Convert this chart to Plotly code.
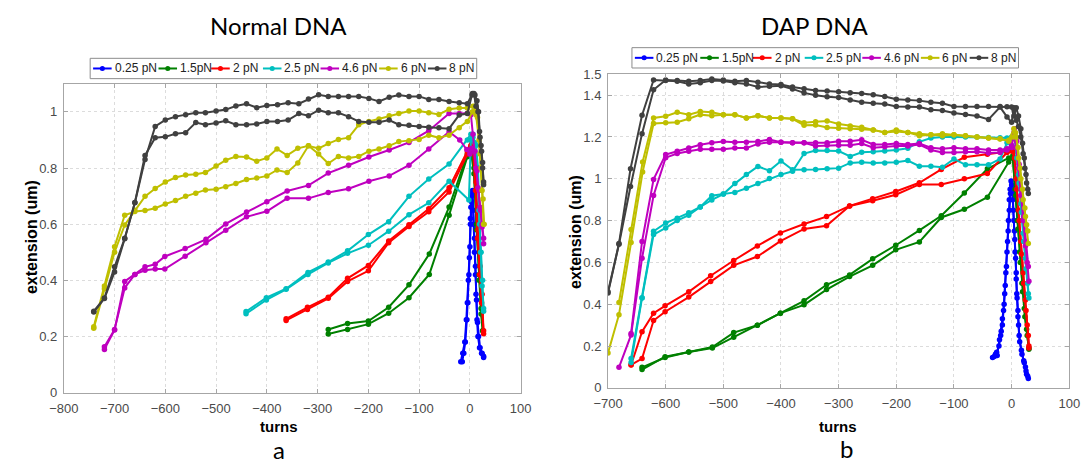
import plotly.graph_objects as go

W, H = 1091, 472

FORCES = ["0.25 pN", "1.5pN", "2 pN", "2.5 pN", "4.6 pN", "6 pN", "8 pN"]
COLORS = ["#0000ff", "#008000", "#ff0000", "#00bfbf", "#bf00bf", "#bfbf00", "#404040"]

# ---------------- Normal DNA (panel a) ----------------
n025a_t = [-18, -14, -10, -7, -5, -3, -1, 1, 2, 3, 5, 7, 9, 11, 12, 14, 16, 19, 23, 27]
n025a_e = [0.11, 0.14, 0.18, 0.26, 0.32, 0.40, 0.48, 0.60, 0.66, 0.70, 0.72, 0.65, 0.55, 0.45, 0.35, 0.26, 0.20, 0.16, 0.14, 0.125]
n025b_t = [-15, -12, -9, -6, -4, -2, 0, 1, 3, 5, 7, 9, 11, 13, 15, 17, 20, 24, 27]
n025b_e = [0.11, 0.14, 0.18, 0.26, 0.32, 0.42, 0.52, 0.62, 0.68, 0.71, 0.60, 0.50, 0.42, 0.33, 0.25, 0.20, 0.16, 0.14, 0.13]

n15a_t = [-279, -241, -200, -160, -120, -80, -41, -5, 2, 8, 13, 18, 22, 26]
n15a_e = [0.225, 0.246, 0.255, 0.304, 0.384, 0.494, 0.661, 0.85, 0.87, 0.80, 0.60, 0.42, 0.30, 0.22]
n15b_t = [-279, -241, -200, -160, -120, -80, -41, -5, 2, 8, 13, 18, 22, 25]
n15b_e = [0.209, 0.225, 0.244, 0.283, 0.338, 0.421, 0.632, 0.84, 0.86, 0.78, 0.58, 0.40, 0.28, 0.22]

n2a_t = [-362, -320, -279, -241, -200, -160, -120, -81, -41, -5, 3, 8, 12, 16, 20, 24, 27]
n2a_e = [0.263, 0.304, 0.340, 0.407, 0.453, 0.540, 0.598, 0.655, 0.730, 0.86, 0.90, 0.88, 0.75, 0.58, 0.45, 0.35, 0.21]
n2b_t = [-362, -320, -279, -241, -200, -160, -120, -81, -41, -5, 2, 6, 11, 15, 19, 23, 27]
n2b_e = [0.257, 0.296, 0.336, 0.396, 0.434, 0.534, 0.592, 0.644, 0.715, 0.85, 0.88, 0.87, 0.72, 0.55, 0.42, 0.32, 0.22]

n25a_t = [-441, -401, -362, -319, -279, -241, -200, -160, -120, -81, -41, -5, 2, 6, 12, 16, 19, 22, 25, 27]
n25a_e = [0.289, 0.338, 0.370, 0.428, 0.465, 0.505, 0.563, 0.609, 0.699, 0.761, 0.814, 0.90, 0.92, 0.91, 0.88, 0.80, 0.60, 0.50, 0.40, 0.29]
n25b_t = [-441, -401, -362, -319, -279, -241, -200, -160, -120, -81, -41, -2, 2, 6, 10, 15, 18, 21, 24, 27]
n25b_e = [0.281, 0.330, 0.368, 0.421, 0.462, 0.496, 0.525, 0.575, 0.634, 0.676, 0.753, 0.686, 0.90, 0.92, 0.89, 0.80, 0.65, 0.50, 0.38, 0.30]

n46a_t = [-720, -700, -680, -660, -640, -620, -601, -561, -520, -481, -440, -400, -360, -318, -279, -239, -199, -159, -120, -81, -41, -21, -5, 2, 6, 10, 14, 18, 21, 24, 27]
n46a_e = [0.154, 0.223, 0.396, 0.421, 0.448, 0.457, 0.485, 0.513, 0.546, 0.601, 0.643, 0.680, 0.718, 0.738, 0.782, 0.810, 0.839, 0.864, 0.891, 0.933, 0.994, 0.994, 0.995, 0.99, 0.92, 0.86, 0.79, 0.72, 0.65, 0.59, 0.53]
n46b_t = [-720, -700, -680, -660, -640, -620, -601, -561, -520, -481, -440, -400, -360, -318, -279, -239, -199, -159, -120, -81, -41, -20, -6, 0, 4, 8, 12, 16, 20, 24, 27]
n46b_e = [0.163, 0.225, 0.373, 0.421, 0.436, 0.440, 0.440, 0.486, 0.534, 0.578, 0.626, 0.646, 0.692, 0.692, 0.713, 0.726, 0.753, 0.772, 0.810, 0.868, 0.929, 0.90, 0.866, 0.85, 0.87, 0.86, 0.80, 0.73, 0.66, 0.60, 0.55]

n6a_t = [-741, -720, -700, -680, -660, -640, -620, -600, -580, -560, -540, -521, -500, -481, -461, -440, -420, -400, -380, -360, -339, -318, -298, -279, -259, -239, -219, -199, -179, -159, -140, -120, -100, -81, -61, -41, -21, -5, 5, 10, 15, 20, 24, 27]
n6a_e = [0.229, 0.37, 0.50, 0.597, 0.65, 0.699, 0.727, 0.75, 0.766, 0.775, 0.778, 0.784, 0.807, 0.828, 0.841, 0.839, 0.824, 0.836, 0.868, 0.845, 0.87, 0.879, 0.85, 0.816, 0.841, 0.836, 0.841, 0.86, 0.868, 0.879, 0.894, 0.897, 0.902, 0.917, 0.908, 0.917, 0.943, 0.966, 1.0, 1.02, 0.98, 0.85, 0.72, 0.60]
n6b_t = [-741, -720, -700, -680, -660, -640, -620, -600, -580, -560, -540, -521, -500, -481, -461, -440, -420, -400, -380, -360, -339, -318, -298, -279, -259, -239, -219, -199, -179, -159, -140, -120, -100, -81, -61, -41, -21, -5, 6, 12, 18, 22, 26, 28]
n6b_e = [0.235, 0.38, 0.52, 0.632, 0.645, 0.649, 0.657, 0.672, 0.684, 0.699, 0.71, 0.722, 0.724, 0.733, 0.745, 0.759, 0.764, 0.772, 0.793, 0.784, 0.818, 0.879, 0.87, 0.887, 0.902, 0.908, 0.954, 0.966, 0.975, 0.986, 0.994, 1.003, 1.003, 0.997, 0.991, 1.009, 1.014, 1.014, 1.02, 0.99, 0.90, 0.80, 0.69, 0.60]

n8a_t = [-741, -720, -700, -680, -660, -640, -620, -600, -580, -560, -540, -521, -500, -481, -461, -440, -420, -400, -379, -358, -337, -318, -298, -279, -259, -239, -219, -199, -179, -159, -140, -120, -100, -81, -61, -41, -21, -5, 5, 10, 14, 17, 20, 23, 25, 27]
n8a_e = [0.287, 0.335, 0.43, 0.548, 0.676, 0.83, 0.948, 0.971, 0.983, 0.99, 0.997, 0.997, 1.003, 1.008, 1.021, 1.029, 1.015, 1.023, 1.025, 1.032, 1.029, 1.046, 1.061, 1.055, 1.055, 1.055, 1.055, 1.048, 1.037, 1.052, 1.06, 1.055, 1.055, 1.044, 1.044, 1.037, 1.032, 1.029, 1.065, 1.06, 1.04, 1.0, 0.91, 0.86, 0.82, 0.74]
n8b_t = [-741, -720, -700, -680, -660, -640, -620, -600, -580, -560, -540, -521, -500, -481, -461, -440, -420, -400, -379, -358, -337, -318, -298, -279, -259, -239, -219, -199, -179, -159, -140, -120, -100, -81, -61, -41, -21, -5, 4, 8, 12, 16, 19, 22, 25, 27]
n8b_e = [0.29, 0.337, 0.448, 0.55, 0.677, 0.845, 0.908, 0.911, 0.922, 0.926, 0.962, 0.954, 0.96, 0.968, 0.954, 0.954, 0.957, 0.966, 0.966, 0.971, 0.994, 0.986, 1.006, 0.997, 0.997, 0.983, 0.966, 0.963, 0.963, 0.971, 0.954, 0.952, 0.948, 0.945, 0.943, 0.94, 0.989, 0.994, 1.06, 1.065, 1.02, 1.0, 0.93, 0.88, 0.80, 0.75]

# ---------------- DAP DNA (panel b) ----------------
d025a_t = [-33, -28, -25, -21, -18, -16, -13, -11, -9, -7, -5.5, -4, -2.5, -1, 1, 2, 4, 5.5, 7, 8, 9.5, 11, 13, 17, 21, 24, 26, 29]
d025a_e = [0.145, 0.16, 0.155, 0.23, 0.27, 0.33, 0.40, 0.49, 0.58, 0.70, 0.80, 0.90, 0.95, 0.99, 0.97, 0.90, 0.80, 0.71, 0.62, 0.52, 0.43, 0.34, 0.25, 0.18, 0.13, 0.10, 0.065, 0.045]
d025b_t = [-30, -26, -22, -19, -16, -14, -12, -10, -8, -6, -4, -2, 0, 2, 3, 5, 6, 8, 9, 11, 12, 14, 18, 22, 25, 28]
d025b_e = [0.15, 0.17, 0.20, 0.25, 0.30, 0.37, 0.45, 0.55, 0.65, 0.75, 0.85, 0.93, 0.97, 0.94, 0.85, 0.75, 0.65, 0.55, 0.45, 0.37, 0.30, 0.22, 0.16, 0.12, 0.08, 0.055]

d15a_t = [-641, -601, -560, -519, -482, -441, -401, -360, -321, -281, -241, -201, -160, -122, -82, -42, -5, 2, 6, 10, 14, 18, 22, 26, 30]
d15a_e = [0.087, 0.149, 0.171, 0.195, 0.264, 0.299, 0.357, 0.416, 0.493, 0.54, 0.617, 0.682, 0.753, 0.823, 0.932, 1.048, 1.10, 1.11, 0.95, 0.80, 0.65, 0.50, 0.38, 0.28, 0.185]
d15b_t = [-641, -601, -560, -519, -482, -441, -401, -360, -321, -281, -241, -201, -160, -122, -82, -42, -5, 2, 7, 11, 15, 19, 23, 27, 30]
d15b_e = [0.098, 0.145, 0.171, 0.19, 0.242, 0.299, 0.357, 0.397, 0.47, 0.532, 0.586, 0.66, 0.698, 0.815, 0.854, 0.912, 1.08, 1.10, 0.92, 0.76, 0.60, 0.46, 0.34, 0.25, 0.19]

d2a_t = [-660, -641, -621, -601, -560, -522, -482, -441, -401, -360, -321, -281, -241, -201, -160, -122, -82, -42, -8, 0, 4, 8, 12, 16, 20, 24, 27, 30]
d2a_e = [0.109, 0.268, 0.357, 0.392, 0.459, 0.536, 0.609, 0.679, 0.741, 0.784, 0.819, 0.87, 0.905, 0.939, 0.981, 1.045, 1.103, 1.118, 1.129, 1.133, 1.13, 1.0, 0.85, 0.70, 0.55, 0.42, 0.30, 0.20]
d2b_t = [-660, -641, -621, -601, -560, -522, -482, -441, -401, -360, -321, -281, -241, -201, -160, -122, -82, -42, -8, 0, 5, 9, 13, 17, 21, 25, 29, 30]
d2b_e = [0.11, 0.14, 0.322, 0.364, 0.434, 0.508, 0.586, 0.628, 0.702, 0.76, 0.775, 0.87, 0.895, 0.924, 0.973, 0.973, 1.0, 1.025, 1.126, 1.135, 1.10, 0.95, 0.80, 0.64, 0.50, 0.37, 0.25, 0.19]

d25a_t = [-660, -641, -621, -600, -580, -560, -540, -520, -500, -480, -460, -440, -420, -400, -380, -360, -340, -320, -300, -280, -260, -240, -220, -200, -180, -160, -140, -120, -100, -80, -60, -40, -20, -8, 0, 4, 8, 12, 16, 20, 24, 28, 30]
d25a_e = [0.14, 0.431, 0.749, 0.788, 0.811, 0.837, 0.865, 0.919, 0.927, 0.935, 0.955, 0.977, 1.001, 1.02, 1.036, 1.121, 1.135, 1.135, 1.133, 1.107, 1.127, 1.129, 1.133, 1.138, 1.146, 1.177, 1.195, 1.2, 1.2, 1.2, 1.2, 1.198, 1.196, 1.195, 1.2, 1.21, 1.15, 1.02, 0.88, 0.74, 0.62, 0.50, 0.43]
d25b_t = [-660, -641, -621, -600, -580, -560, -540, -520, -500, -480, -460, -440, -420, -400, -380, -360, -340, -320, -300, -280, -260, -240, -220, -200, -180, -160, -140, -120, -100, -80, -60, -40, -20, -8, 0, 5, 9, 13, 17, 21, 25, 29]
d25b_e = [0.121, 0.43, 0.733, 0.765, 0.80, 0.826, 0.865, 0.899, 0.927, 0.977, 1.02, 1.059, 1.039, 1.085, 1.043, 1.043, 1.045, 1.048, 1.051, 1.076, 1.079, 1.076, 1.076, 1.079, 1.087, 1.06, 1.06, 1.055, 1.095, 1.067, 1.067, 1.067, 1.095, 1.172, 1.19, 1.20, 1.10, 0.98, 0.84, 0.70, 0.57, 0.45]

d46a_t = [-681, -660, -641, -621, -600, -580, -560, -540, -520, -500, -480, -460, -440, -420, -400, -380, -360, -340, -320, -300, -280, -260, -240, -220, -200, -180, -160, -140, -120, -100, -80, -60, -40, -20, -8, 0, 4, 8, 12, 16, 20, 24, 27, 30]
d46a_e = [0.098, 0.253, 0.62, 0.92, 1.101, 1.121, 1.132, 1.141, 1.141, 1.141, 1.147, 1.147, 1.167, 1.175, 1.175, 1.172, 1.172, 1.157, 1.16, 1.16, 1.16, 1.169, 1.149, 1.153, 1.157, 1.157, 1.164, 1.138, 1.126, 1.126, 1.129, 1.129, 1.123, 1.126, 1.138, 1.15, 1.22, 1.15, 1.05, 0.92, 0.80, 0.68, 0.60, 0.51]
d46b_t = [-660, -641, -621, -600, -580, -560, -540, -520, -500, -480, -460, -440, -420, -400, -380, -360, -340, -320, -300, -280, -260, -240, -220, -200, -180, -160, -140, -120, -100, -80, -60, -40, -20, -8, 0, 5, 9, 13, 17, 21, 25, 29]
d46b_e = [0.26, 0.70, 0.997, 1.116, 1.132, 1.147, 1.163, 1.172, 1.178, 1.175, 1.175, 1.178, 1.188, 1.175, 1.172, 1.172, 1.172, 1.172, 1.18, 1.18, 1.187, 1.164, 1.164, 1.169, 1.164, 1.169, 1.149, 1.144, 1.149, 1.144, 1.144, 1.138, 1.138, 1.144, 1.16, 1.24, 1.18, 1.07, 0.95, 0.82, 0.70, 0.58]

d6a_t = [-700, -681, -660, -640, -621, -600, -580, -560, -540, -520, -500, -480, -460, -440, -420, -400, -380, -360, -340, -320, -300, -280, -260, -240, -220, -200, -180, -160, -140, -120, -100, -80, -60, -40, -20, -5, 3, 7, 11, 15, 19, 23, 26, 29]
d6a_e = [0.167, 0.35, 0.695, 1.032, 1.265, 1.268, 1.271, 1.287, 1.307, 1.302, 1.307, 1.307, 1.291, 1.302, 1.291, 1.291, 1.287, 1.256, 1.257, 1.246, 1.242, 1.24, 1.237, 1.234, 1.222, 1.226, 1.222, 1.206, 1.211, 1.206, 1.211, 1.206, 1.2, 1.195, 1.191, 1.18, 1.2, 1.22, 1.15, 1.05, 0.95, 0.86, 0.78, 0.69]
d6b_t = [-681, -660, -640, -621, -600, -580, -560, -540, -520, -500, -480, -460, -440, -420, -400, -380, -360, -340, -320, -300, -280, -260, -240, -220, -200, -180, -160, -140, -120, -100, -80, -60, -40, -20, -5, 4, 8, 12, 16, 20, 24, 28]
d6b_e = [0.408, 0.757, 1.08, 1.291, 1.299, 1.318, 1.307, 1.322, 1.318, 1.307, 1.307, 1.291, 1.302, 1.291, 1.291, 1.287, 1.268, 1.273, 1.277, 1.262, 1.253, 1.247, 1.234, 1.222, 1.234, 1.222, 1.216, 1.211, 1.216, 1.211, 1.206, 1.2, 1.195, 1.19, 1.185, 1.24, 1.2, 1.1, 1.0, 0.9, 0.82, 0.75]

d8a_t = [-700, -681, -661, -641, -621, -600, -580, -560, -540, -520, -500, -480, -460, -440, -420, -400, -380, -360, -340, -320, -300, -280, -260, -240, -220, -200, -180, -160, -140, -120, -100, -80, -60, -40, -20, -8, 0, 4, 8, 12, 16, 19, 22, 25, 28]
d8a_e = [0.454, 0.687, 0.963, 1.216, 1.426, 1.473, 1.47, 1.467, 1.47, 1.477, 1.473, 1.467, 1.47, 1.462, 1.454, 1.451, 1.439, 1.431, 1.423, 1.42, 1.417, 1.412, 1.408, 1.402, 1.394, 1.381, 1.377, 1.374, 1.366, 1.361, 1.346, 1.346, 1.346, 1.346, 1.346, 1.345, 1.343, 1.30, 1.34, 1.30, 1.24, 1.17, 1.10, 1.02, 0.95]
d8b_t = [-700, -681, -661, -641, -621, -600, -580, -560, -540, -520, -500, -480, -460, -440, -420, -400, -380, -360, -340, -320, -300, -280, -260, -240, -220, -200, -180, -160, -140, -120, -100, -80, -60, -40, -20, -8, 0, 4, 8, 12, 16, 20, 23, 26, 29]
d8b_e = [0.46, 0.69, 1.048, 1.304, 1.473, 1.47, 1.467, 1.454, 1.46, 1.47, 1.468, 1.46, 1.454, 1.439, 1.443, 1.445, 1.43, 1.411, 1.40, 1.392, 1.389, 1.377, 1.366, 1.361, 1.358, 1.346, 1.343, 1.343, 1.33, 1.327, 1.315, 1.308, 1.30, 1.284, 1.343, 1.296, 1.27, 1.34, 1.28, 1.25, 1.20, 1.12, 1.05, 0.98, 0.93]

NORMAL = [
    (n025a_t, n025a_e, n025b_t, n025b_e),
    (n15a_t, n15a_e, n15b_t, n15b_e),
    (n2a_t, n2a_e, n2b_t, n2b_e),
    (n25a_t, n25a_e, n25b_t, n25b_e),
    (n46a_t, n46a_e, n46b_t, n46b_e),
    (n6a_t, n6a_e, n6b_t, n6b_e),
    (n8a_t, n8a_e, n8b_t, n8b_e),
]
DAP = [
    (d025a_t, d025a_e, d025b_t, d025b_e),
    (d15a_t, d15a_e, d15b_t, d15b_e),
    (d2a_t, d2a_e, d2b_t, d2b_e),
    (d25a_t, d25a_e, d25b_t, d25b_e),
    (d46a_t, d46a_e, d46b_t, d46b_e),
    (d6a_t, d6a_e, d6b_t, d6b_e),
    (d8a_t, d8a_e, d8b_t, d8b_e),
]

fig = go.Figure()

def add_panel(series, xa, ya):
    for (ta, ea, tb, eb), name, col in zip(series, FORCES, COLORS):
        for t, e in ((ta, ea), (tb, eb)):
            fig.add_trace(go.Scatter(
                x=t, y=e, xaxis=xa, yaxis=ya, mode="lines+markers", name=name,
                showlegend=False, line=dict(color=col, width=2),
                marker=dict(color=col, size=5.5, symbol="circle")))

add_panel(NORMAL, "x", "y")
add_panel(DAP, "x2", "y2")

def px_x(p):
    return p / W

def px_y(p):
    return 1 - p / H

axis_common = dict(
    showline=True, mirror="ticks", linecolor="#a6a6a6", linewidth=1,
    ticks="inside", ticklen=4, tickcolor="#a6a6a6",
    showgrid=True, gridcolor="#dcdcdc", griddash="dot", gridwidth=1,
    zeroline=False, fixedrange=True,
    tickfont=dict(family="Liberation Sans, Arial, sans-serif", size=13, color="#4a4a4a"),
)

left_y_ticks = [0, 0.2, 0.4, 0.6, 0.8, 1.0]
left_y_text = ["0", "0.2", "0.4", "0.6", "0.8", "1"]
right_y_ticks = [0, 0.2, 0.4, 0.6, 0.8, 1.0, 1.2, 1.4, 1.5]
right_y_text = ["0", "0.2", "0.4", "0.6", "0.8", "1", "1.2", "1.4", "1.5"]

fig.update_layout(
    width=W, height=H,
    margin=dict(l=0, r=0, t=0, b=0),
    paper_bgcolor="white", plot_bgcolor="white",
    showlegend=False,
    xaxis=dict(axis_common, domain=[px_x(50), px_x(518)], range=[-800, 100],
               tickmode="linear", tick0=-800, dtick=100, anchor="y", ticklabelstandoff=4),
    yaxis=dict(axis_common, domain=[px_y(398.3), px_y(79.3)], range=[0, 1.1],
               tickvals=left_y_ticks, ticktext=left_y_text, anchor="x", ticklabelstandoff=3),
    xaxis2=dict(axis_common, domain=[px_x(607.5), px_x(1080)], range=[-700, 100],
                tickmode="linear", tick0=-700, dtick=100, anchor="y2", ticklabelstandoff=4),
    yaxis2=dict(axis_common, domain=[px_y(393.3), px_y(69.5)], range=[0, 1.5],
                tickvals=right_y_ticks, ticktext=right_y_text, anchor="x2", ticklabelstandoff=3),
)

annotations = []
shapes = []

def text(x, y, s, size, family="Liberation Sans, Arial, sans-serif", angle=0, xanchor="center", color="black"):
    annotations.append(dict(
        x=px_x(x), y=px_y(y), xref="paper", yref="paper", text=s, showarrow=False,
        xanchor=xanchor, yanchor="middle", textangle=angle,
        font=dict(family=family, size=size, color=color)))

# titles and panel letters
text(270, 19, "Normal DNA", 24, family="Lato, Open Sans, sans-serif")
text(820, 19, "DAP DNA", 24, family="Lato, Open Sans, sans-serif")
text(270, 457, "a", 24, family="Lato, Open Sans, sans-serif")
text(852, 456, "b", 24, family="Lato, Open Sans, sans-serif")

# axis titles
text(270, 433, "<b>turns</b>", 15)
text(843, 433, "<b>turns</b>", 15)
text(17, 238, "<b>extension (um)</b>", 16, angle=-90)
text(574, 232, "<b>extension (um)</b>", 16, angle=-90)

# legends (drawn as boxes with line+marker keys)
LEG_OFFSETS = [3, 70, 124, 177, 236, 296, 346]
LEG_W, LEG_H = 396, 21

def legend_box(left, top):
    shapes.append(dict(type="rect", xref="paper", yref="paper",
                       x0=px_x(left), x1=px_x(left + LEG_W),
                       y0=px_y(top + LEG_H), y1=px_y(top),
                       line=dict(color="#8c8c8c", width=1), fillcolor="white"))
    cy = top + LEG_H / 2
    for off, name, col in zip(LEG_OFFSETS, FORCES, COLORS):
        x0 = left + off
        shapes.append(dict(type="line", xref="paper", yref="paper",
                           x0=px_x(x0), x1=px_x(x0 + 19), y0=px_y(cy), y1=px_y(cy),
                           line=dict(color=col, width=2)))
        cx = x0 + 9.5
        shapes.append(dict(type="circle", xref="paper", yref="paper",
                           x0=px_x(cx - 2.6), x1=px_x(cx + 2.6),
                           y0=px_y(cy + 2.6), y1=px_y(cy - 2.6),
                           line=dict(color=col, width=0), fillcolor=col))
        text(x0 + 20, cy, name, 12, xanchor="left", color="#222222")

legend_box(77, 53)
legend_box(632, 42)

fig.update_layout(annotations=annotations, shapes=shapes)

fig.write_html("out.html")
